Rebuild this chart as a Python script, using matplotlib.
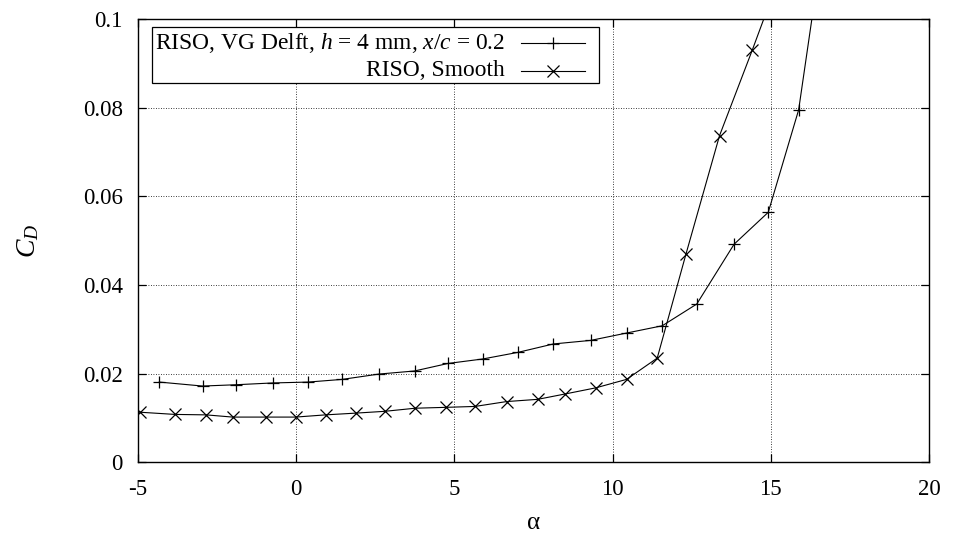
import matplotlib
matplotlib.use("Agg")
import matplotlib.pyplot as plt
from matplotlib.lines import Line2D
from matplotlib.patches import Rectangle

plt.rcParams['font.family'] = ['Liberation Serif', 'DejaVu Serif']
plt.rcParams['mathtext.fontset'] = 'custom'
plt.rcParams['mathtext.rm'] = 'Liberation Serif'
plt.rcParams['mathtext.it'] = 'Liberation Serif:italic'
plt.rcParams['axes.unicode_minus'] = False

# RISO, VG Delft, h = 4 mm, x/c = 0.2
alpha_vg = [-4.33, -2.96, -1.89, -0.74, 0.38, 1.45, 2.61, 3.74, 4.80, 5.89,
            7.01, 8.13, 9.31, 10.47, 11.57, 12.66, 13.84, 14.92, 15.88, 16.90]
cd_vg = [0.0181, 0.0172, 0.0175, 0.0179, 0.0181, 0.0187, 0.0199, 0.0206, 0.0223, 0.0233,
         0.0248, 0.0267, 0.0275, 0.0292, 0.0308, 0.0357, 0.0492, 0.0564, 0.0795, 0.1295]

# RISO, Smooth
alpha_sm = [-4.94, -3.83, -2.85, -2.01, -0.97, -0.02, 0.93, 1.90, 2.80, 3.76,
            4.74, 5.65, 6.65, 7.63, 8.49, 9.47, 10.44, 11.41, 12.32, 13.38, 14.41, 15.40]
cd_sm = [0.0113, 0.0108, 0.0107, 0.0102, 0.0102, 0.0102, 0.0107, 0.0111, 0.0115, 0.0122,
         0.0124, 0.0126, 0.0137, 0.0142, 0.0154, 0.0168, 0.0187, 0.0235, 0.0470, 0.0737, 0.0929, 0.112]

labels = ["RISO, VG Delft, $h$ = 4 mm, $x/c$ = 0.2", "RISO, Smooth"]

W, H = 954, 537
fig = plt.figure(figsize=(W / 100, H / 100), dpi=100)
ax = fig.add_axes([138 / W, (H - 462.3) / H, (929 - 138) / W, (462.3 - 19) / H])

ax.plot(alpha_vg, cd_vg, color='black', lw=0.8, marker='+', ms=9, mew=0.9, clip_on=True)
ax.plot(alpha_sm, cd_sm, color='black', lw=0.8, marker='x', ms=8, mew=0.9, clip_on=True)

ax.set_xlim(-5, 20)
ax.set_ylim(0, 0.1)
ax.set_xticks([-5, 0, 5, 10, 15, 20])
ax.set_yticks([0, 0.02, 0.04, 0.06, 0.08, 0.1])
ax.set_yticklabels(['0', '0.02', '0.04', '0.06', '0.08', '0.1'])
ax.tick_params(direction='in', length=6, width=0.9, top=True, right=True,
               labelsize=16.5, pad=11, colors='black')
ax.tick_params(axis='x', pad=12)
ax.grid(True, linestyle=(0, (1, 2)), color='black', lw=0.6)
ax.set_axisbelow(True)
for s in ax.spines.values():
    s.set_linewidth(1.0)

ax.set_xlabel('α', fontsize=18, labelpad=9)
ax.set_ylabel('$C_D$', fontsize=20, labelpad=30)

# gnuplot-style key, text right aligned with sample after it
def px(x, y):
    return ((x - 138) / (929 - 138), (462.3 - y) / (462.3 - 19))

x0, y0 = px(152, 83)
x1, y1 = px(599, 27)
ax.add_patch(Rectangle((x0, y0), x1 - x0, y1 - y0, transform=ax.transAxes,
                       facecolor='white', edgecolor='black', lw=0.9, zorder=5))
rows = [43, 71]
markers = ['+', 'x']
for lab, yr, mk in zip(labels, rows, markers):
    tx, ty = px(505, yr)
    ax.text(tx, ty, lab, transform=ax.transAxes, ha='right', va='center',
            fontsize=16.9, zorder=6)
    la, ly = px(521, yr)
    lb, _ = px(585, yr)
    ax.add_line(Line2D([la, lb], [ly, ly], transform=ax.transAxes, color='black', lw=0.8, zorder=6))
    ax.add_line(Line2D([(la + lb) / 2], [ly], transform=ax.transAxes, color='black',
                       marker=mk, ms=9 if mk == '+' else 8, mew=0.9, zorder=6))

fig.savefig('out.png', dpi=100)
